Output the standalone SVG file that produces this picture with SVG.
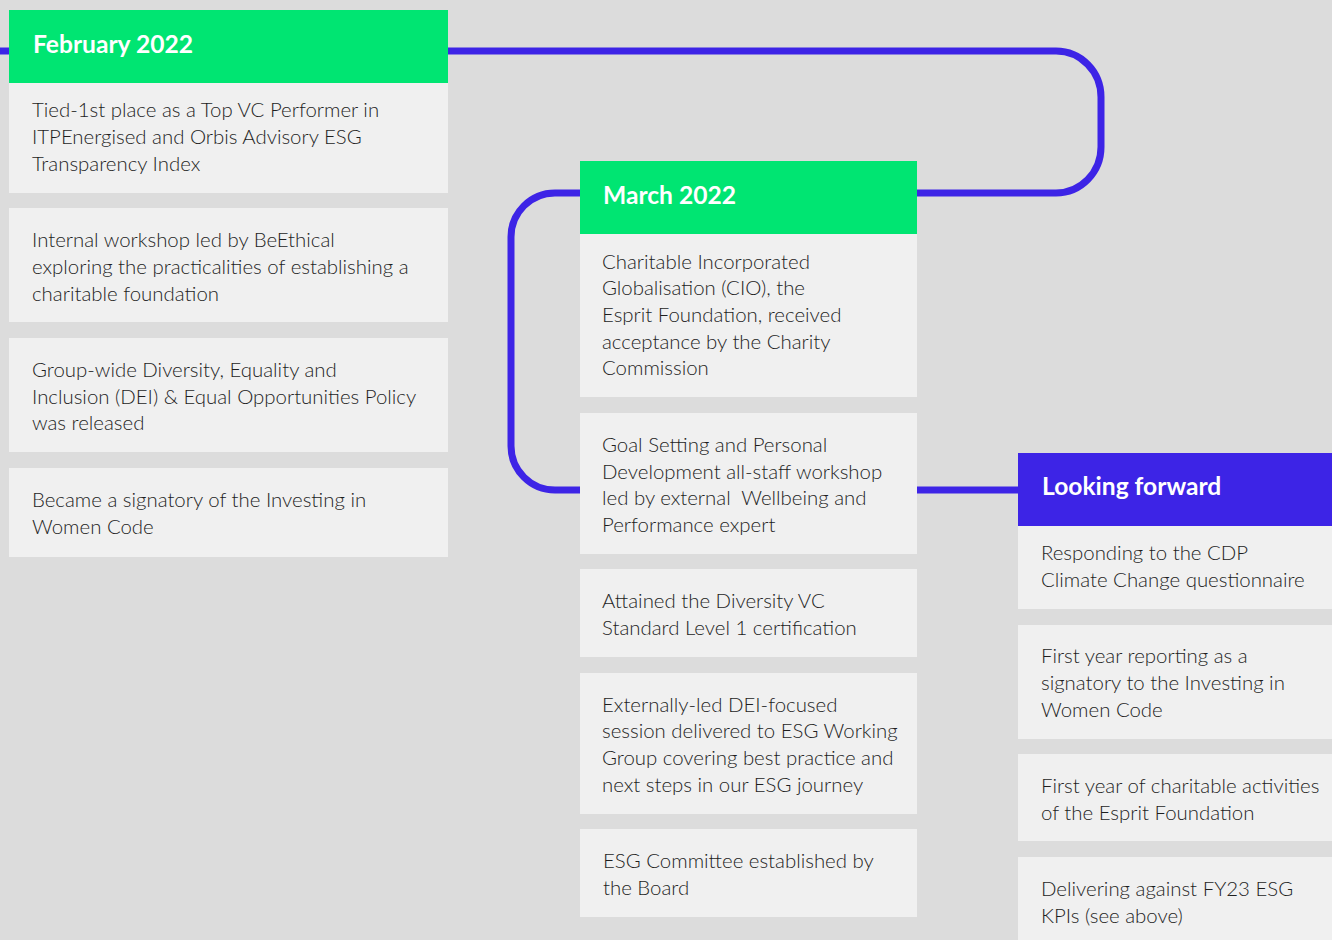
<svg xmlns="http://www.w3.org/2000/svg" width="1332" height="940" viewBox="0 0 1332 940">
<style>
.bg{fill:#dcdcdc}
.box{fill:#f0f0f0}
.hg{fill:#00e572}
.hb{fill:#3d24e6}
.t{font-family:Lato,"Open Sans",sans-serif;font-size:20.4px;font-weight:300;fill:#1e1e1e}
.h{font-family:Lato,"Open Sans",sans-serif;font-size:24.6px;font-weight:bold;fill:#ffffff}
.line{fill:none;stroke:#3d24e6;stroke-width:7}
</style>
<rect class="bg" x="0" y="0" width="1332" height="940"/>
<g id="connectors">
<path class="line" d="M0,51 H1056 A45,46 0 0 1 1101,97 V147 A45,46 0 0 1 1056,193 H555 A44,44 0 0 0 511,237 V446 A44,44 0 0 0 555,490 H1018"/>
</g>
<g id="feb-header"><rect class="hg" x="9" y="10" width="439" height="73"/><text class="h" x="33" y="53">February 2022</text></g>
<g id="feb-1"><rect class="box" x="9" y="83" width="439" height="110"/><text class="t"><tspan x="32" y="117">Tied-1st place as a Top VC Performer in</tspan><tspan x="32" y="144">ITPEnergised and Orbis Advisory ESG</tspan><tspan x="32" y="171">Transparency Index</tspan></text></g>
<g id="feb-2"><rect class="box" x="9" y="208" width="439" height="114"/><text class="t"><tspan x="32" y="247">Internal workshop led by BeEthical</tspan><tspan x="32" y="274">exploring the practicalities of establishing a</tspan><tspan x="32" y="301">charitable foundation</tspan></text></g>
<g id="feb-3"><rect class="box" x="9" y="338" width="439" height="114"/><text class="t"><tspan x="32" y="377">Group-wide Diversity, Equality and</tspan><tspan x="32" y="404">Inclusion (DEI) &amp; Equal Opportunities Policy</tspan><tspan x="32" y="430">was released</tspan></text></g>
<g id="feb-4"><rect class="box" x="9" y="468" width="439" height="89"/><text class="t"><tspan x="32" y="507">Became a signatory of the Investing in</tspan><tspan x="32" y="534">Women Code</tspan></text></g>
<g id="mar-header"><rect class="hg" x="580" y="161" width="337" height="73"/><text class="h" x="603" y="204">March 2022</text></g>
<g id="mar-1"><rect class="box" x="580" y="234" width="337" height="163"/><text class="t"><tspan x="602" y="269">Charitable Incorporated</tspan><tspan x="602" y="295">Globalisation (CIO), the</tspan><tspan x="602" y="322">Esprit Foundation, received</tspan><tspan x="602" y="349">acceptance by the Charity</tspan><tspan x="602" y="375">Commission</tspan></text></g>
<g id="mar-2"><rect class="box" x="580" y="413" width="337" height="141"/><text class="t" xml:space="preserve"><tspan x="602" y="452">Goal Setting and Personal</tspan><tspan x="602" y="479">Development all-staff workshop</tspan><tspan x="602" y="505">led by external  Wellbeing and</tspan><tspan x="602" y="532">Performance expert</tspan></text></g>
<g id="mar-3"><rect class="box" x="580" y="569" width="337" height="88"/><text class="t"><tspan x="602" y="608">Attained the Diversity VC</tspan><tspan x="602" y="635">Standard Level 1 certification</tspan></text></g>
<g id="mar-4"><rect class="box" x="580" y="673" width="337" height="141"/><text class="t"><tspan x="602" y="712">Externally-led DEI-focused</tspan><tspan x="602" y="738">session delivered to ESG Working</tspan><tspan x="602" y="765">Group covering best practice and</tspan><tspan x="602" y="792">next steps in our ESG journey</tspan></text></g>
<g id="mar-5"><rect class="box" x="580" y="829" width="337" height="88"/><text class="t"><tspan x="603" y="868">ESG Committee established by</tspan><tspan x="603" y="895">the Board</tspan></text></g>
<g id="fwd-header"><rect class="hb" x="1018" y="453" width="314" height="73"/><text class="h" x="1042" y="495">Looking forward</text></g>
<g id="fwd-1"><rect class="box" x="1018" y="526" width="314" height="83"/><text class="t"><tspan x="1041" y="560">Responding to the CDP</tspan><tspan x="1041" y="587">Climate Change questionnaire</tspan></text></g>
<g id="fwd-2"><rect class="box" x="1018" y="625" width="314" height="114"/><text class="t"><tspan x="1041" y="663">First year reporting as a</tspan><tspan x="1041" y="690">signatory to the Investing in</tspan><tspan x="1041" y="717">Women Code</tspan></text></g>
<g id="fwd-3"><rect class="box" x="1018" y="754" width="314" height="87"/><text class="t"><tspan x="1041" y="793">First year of charitable activities</tspan><tspan x="1041" y="820">of the Esprit Foundation</tspan></text></g>
<g id="fwd-4"><rect class="box" x="1018" y="857" width="314" height="83"/><text class="t"><tspan x="1041" y="896">Delivering against FY23 ESG</tspan><tspan x="1041" y="923">KPIs (see above)</tspan></text></g>
</svg>
